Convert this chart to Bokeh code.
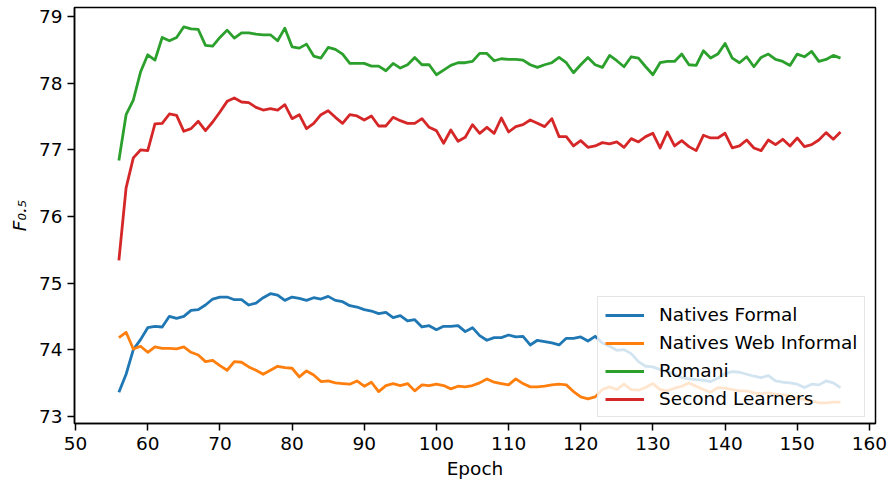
from bokeh.plotting import figure
from bokeh.models import Range1d, Legend, LegendItem, FixedTicker
from bokeh.embed import file_html
from bokeh.resources import INLINE

# Training epochs evaluated
epochs = list(range(56, 157))

# F0.5 scores per test set
natives_formal = [
    73.36, 73.63, 74.00, 74.15, 74.33, 74.35, 74.34, 74.50, 74.47, 74.50,
    74.59, 74.60, 74.67, 74.76, 74.79, 74.79, 74.75, 74.75, 74.67, 74.70,
    74.78, 74.84, 74.82, 74.74, 74.79, 74.77, 74.74, 74.78, 74.76, 74.80,
    74.74, 74.72, 74.66, 74.64, 74.60, 74.58, 74.54, 74.56, 74.48, 74.51,
    74.43, 74.45, 74.34, 74.36, 74.30, 74.35, 74.35, 74.36, 74.27, 74.33,
    74.21, 74.14, 74.18, 74.18, 74.22, 74.19, 74.20, 74.07, 74.14, 74.12,
    74.10, 74.07, 74.17, 74.17, 74.19, 74.13, 74.20, 74.10, 74.05, 73.99,
    74.00, 73.94, 73.82, 73.75, 73.74, 73.70, 73.67, 73.63, 73.58, 73.56,
    73.55, 73.54, 73.52, 73.57, 73.64, 73.67, 73.66, 73.63, 73.60, 73.58,
    73.61, 73.53, 73.51, 73.50, 73.48, 73.43, 73.48, 73.47, 73.53, 73.50,
    73.43,
]
natives_web_informal = [
    74.18, 74.26, 74.01, 74.05, 73.96, 74.04, 74.02, 74.02, 74.01, 74.04,
    73.96, 73.92, 73.82, 73.84, 73.76, 73.69, 73.82, 73.81, 73.74, 73.69,
    73.63, 73.69, 73.75, 73.73, 73.72, 73.59, 73.68, 73.62, 73.52, 73.53,
    73.50, 73.49, 73.48, 73.53, 73.45, 73.51, 73.37, 73.46, 73.49, 73.46,
    73.49, 73.38, 73.47, 73.46, 73.48, 73.46, 73.41, 73.45, 73.44, 73.46,
    73.50, 73.56, 73.51, 73.49, 73.47, 73.56, 73.49, 73.44, 73.44, 73.45,
    73.47, 73.48, 73.47, 73.37, 73.29, 73.26, 73.29, 73.40, 73.44, 73.40,
    73.48, 73.40, 73.39, 73.43, 73.49, 73.40, 73.38, 73.42, 73.45, 73.50,
    73.45, 73.40, 73.36, 73.43, 73.42, 73.40, 73.38, 73.38, 73.35, 73.34,
    73.35, 73.33, 73.32, 73.30, 73.27, 73.25, 73.23, 73.20, 73.20, 73.21,
    73.21,
]
romani = [
    76.84, 77.53, 77.75, 78.17, 78.43, 78.35, 78.69, 78.64, 78.69, 78.85,
    78.82, 78.81, 78.57, 78.56, 78.69, 78.80, 78.68, 78.76, 78.76, 78.74,
    78.73, 78.73, 78.64, 78.83, 78.55, 78.53, 78.59, 78.41, 78.38, 78.54,
    78.51, 78.44, 78.30, 78.30, 78.30, 78.26, 78.26, 78.19, 78.30, 78.23,
    78.28, 78.39, 78.28, 78.28, 78.13, 78.20, 78.27, 78.31, 78.31, 78.33,
    78.45, 78.45, 78.34, 78.37, 78.36, 78.36, 78.35, 78.28, 78.24, 78.28,
    78.31, 78.39, 78.31, 78.16, 78.28, 78.39, 78.28, 78.24, 78.42, 78.34,
    78.25, 78.40, 78.38, 78.25, 78.13, 78.31, 78.33, 78.33, 78.44, 78.28,
    78.27, 78.49, 78.38, 78.44, 78.60, 78.38, 78.31, 78.40, 78.25, 78.39,
    78.44, 78.36, 78.33, 78.27, 78.44, 78.40, 78.48, 78.33, 78.36, 78.42,
    78.38,
]
second_learners = [
    75.34, 76.43, 76.88, 77.00, 76.99, 77.39, 77.40, 77.54, 77.52, 77.28,
    77.32, 77.43, 77.29, 77.42, 77.57, 77.73, 77.78, 77.72, 77.71, 77.64,
    77.60, 77.62, 77.60, 77.68, 77.47, 77.53, 77.32, 77.40, 77.53, 77.59,
    77.49, 77.40, 77.53, 77.51, 77.45, 77.51, 77.36, 77.36, 77.49, 77.44,
    77.40, 77.40, 77.47, 77.34, 77.29, 77.10, 77.30, 77.13, 77.19, 77.38,
    77.25, 77.34, 77.25, 77.48, 77.27, 77.35, 77.38, 77.45, 77.40, 77.35,
    77.47, 77.20, 77.20, 77.06, 77.14, 77.04, 77.06, 77.11, 77.09, 77.12,
    77.04, 77.17, 77.12, 77.20, 77.25, 77.03, 77.27, 77.06, 77.14, 77.05,
    76.99, 77.22, 77.18, 77.18, 77.25, 77.03, 77.06, 77.15, 77.03, 76.99,
    77.15, 77.08, 77.16, 77.06, 77.18, 77.05, 77.08, 77.15, 77.26, 77.16,
    77.27,
]

series_names = ["Natives Formal", "Natives Web Informal", "Romani", "Second Learners"]
series_values = [natives_formal, natives_web_informal, romani, second_learners]
series_colors = ["#1f77b4", "#ff7f0e", "#2ca02c", "#d62728"]

x_ticks = [50, 60, 70, 80, 90, 100, 110, 120, 130, 140, 150, 160]
y_ticks = [73, 74, 75, 76, 77, 78, 79]

FONT = "DejaVu Sans"
FS = "18.5px"

p = figure(
    width=889, height=481,
    output_backend="svg", toolbar_location=None,
    x_range=Range1d(49.85, 160.85), y_range=Range1d(72.89, 79.14),
    min_border_left=74, min_border_right=14,
    min_border_top=7, min_border_bottom=57,
)
p.grid.visible = False
p.background_fill_color = "white"
p.border_fill_color = "white"
p.outline_line_color = "black"
p.outline_line_width = 1.5

p.xaxis.ticker = FixedTicker(ticks=x_ticks)
p.yaxis.ticker = FixedTicker(ticks=y_ticks)
for ax in p.axis:
    ax.axis_line_color = "black"
    ax.axis_line_width = 1.5
    ax.major_tick_line_color = "black"
    ax.major_tick_line_width = 1.5
    ax.major_tick_in = 0
    ax.major_tick_out = 7
    ax.minor_tick_line_color = None
    ax.major_label_text_font = FONT
    ax.major_label_text_font_size = FS
    ax.major_label_text_color = "black"
    ax.axis_label_text_font = FONT
    ax.axis_label_text_font_size = FS
    ax.axis_label_text_color = "black"

p.xaxis.axis_label = "Epoch"
p.xaxis.axis_label_text_font_style = "normal"
p.xaxis.major_label_standoff = 6
p.xaxis.axis_label_standoff = 5

# F with a 0.5 subscript (Unicode subscript digits)
p.yaxis.axis_label = "F\u2080.\u2085"
p.yaxis.axis_label_text_font_style = "italic"
p.yaxis.major_label_standoff = 5
p.yaxis.axis_label_standoff = 6

items = []
for name, ys, color in zip(series_names, series_values, series_colors):
    r = p.line(epochs, ys, line_color=color, line_width=2.8, line_join="round")
    items.append(LegendItem(label=name, renderers=[r]))

legend = Legend(
    items=items,
    location=(523, 6),
    margin=0,
    padding=7,
    spacing=7,
    glyph_width=39,
    glyph_height=20,
    label_height=20,
    label_standoff=15,
    label_text_font=FONT,
    label_text_font_size=FS,
    label_text_color="black",
    background_fill_color="white",
    background_fill_alpha=0.8,
    border_line_color="#cccccc",
    border_line_width=1.5,
)
p.add_layout(legend, "center")

open("out.html", "w").write(file_html(p, INLINE))
